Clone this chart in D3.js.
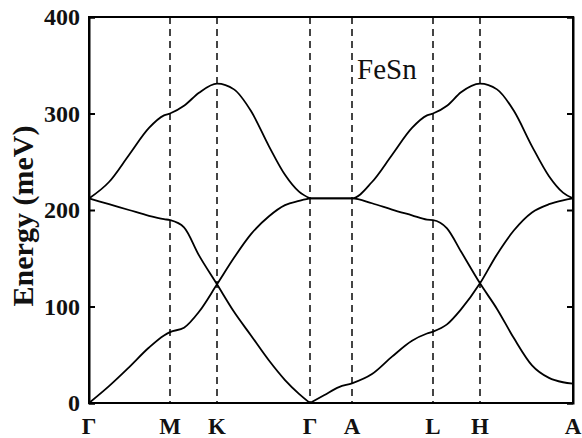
<!DOCTYPE html>
<html lang="en">
<head>
  <meta charset="utf-8">
  <title>FeSn</title>
  <script src="https://d3js.org/d3.v7.min.js" charset="utf-8"></script>
  <style>
  body{ margin:0; background:#fff; }
  .band{ fill:none; stroke:#000; stroke-width:1.8; }
  .kline{ stroke:#444; stroke-width:2; stroke-dasharray:7,5; }
  .lab{ font-family:"Times New Roman", "Liberation Serif", "DejaVu Serif", serif; font-weight:bold; fill:#111; }
  .name{ font-family:"Times New Roman", "Liberation Serif", "DejaVu Serif", serif; fill:#111; }
  </style>
</head>
<body>
  <script>
  var width = 582;
  var height = 438;

  // high symmetry points, position along the path
  var kNames = ["Γ", "M", "K", "Γ", "A", "L", "H", "A"];
  var kPos = [0, 81, 128, 221, 263, 344, 391, 484];

  // sampled k grid
  var kGrid = [0, 20, 40, 60, 75, 81,
    95, 110, 128,
    145, 162, 180, 196, 210, 221,
    235, 250, 263,
    283, 303, 323, 338, 344,
    358, 372, 391,
    408, 425, 443, 460, 474, 484];

  // energies (meV)
  var band1 = [0, 17.5, 37, 57.5, 70, 73.5,
    78, 94.5, 123,
    150.5, 175, 193.5, 205, 209.5, 212,
    212, 212, 212,
    207, 200.5, 194.5, 190, 189.6,
    181, 157, 124,
    97.5, 67, 39, 26, 21.5, 20];
  var band2 = [212, 206, 200, 194, 190.5, 189.5,
    182, 153, 123,
    94.5, 70, 44, 23.8, 9.5, 0,
    8, 16.5, 20.4,
    30, 48, 64.5, 72, 74,
    81.5, 97, 124,
    154, 179, 197.5, 206, 210, 212];
  var band3 = [212, 229, 257, 285, 298, 300,
    308, 321.5, 331,
    325, 302.5, 266, 236.5, 219, 212,
    212, 212, 212,
    229, 257, 285, 298, 300,
    308, 322, 331,
    325, 302.5, 266, 235, 218, 212];

  var yTicks = [0, 100, 200, 300, 400];

  var svg = d3.select("body")
    .append("svg")
    .attr("width", width)
    .attr("height", height);

  var x = d3.scaleLinear().domain([0, 484]).range([89, 573]);
  var y = d3.scaleLinear().domain([0, 400]).range([403, 17]);

  // dashed lines at the inner k points
  svg.selectAll(".kline")
    .data(kPos.slice(1, -1))
    .enter().append("line")
    .attr("class", "kline")
    .attr("x1", function(d){ return x(d); })
    .attr("x2", function(d){ return x(d); })
    .attr("y1", y(400))
    .attr("y2", y(0));

  // split at the middle Γ so the cusp stays sharp
  var line = d3.line()
    .x(function(d){ return x(d[0]); })
    .y(function(d){ return y(d[1]); })
    .curve(d3.curveMonotoneX);

  var cut = kGrid.indexOf(221);
  [band1, band2, band3].forEach(function(b){
    var pts = kGrid.map(function(k, i){ return [k, b[i]]; });
    [pts.slice(0, cut + 1), pts.slice(cut)].forEach(function(p){
      svg.append("path").attr("class", "band").attr("d", line(p));
    });
  });

  // frame and ticks
  svg.append("g")
    .attr("transform", "translate(" + x(0) + ",0)")
    .call(d3.axisLeft(y).tickValues(yTicks).tickSize(-6).tickFormat(""))
    .call(function(g){ g.selectAll("line,path").attr("stroke", "#000").attr("stroke-width", 2); });
  svg.append("g")
    .attr("transform", "translate(" + x(484) + ",0)")
    .call(d3.axisRight(y).tickValues(yTicks).tickSize(-6).tickFormat(""))
    .call(function(g){ g.selectAll("line,path").attr("stroke", "#000").attr("stroke-width", 2); });
  svg.append("rect")
    .attr("x", x(0)).attr("y", y(400))
    .attr("width", x(484) - x(0)).attr("height", y(0) - y(400))
    .attr("fill", "none").attr("stroke", "#000").attr("stroke-width", 2);

  // tick labels
  svg.selectAll(".ylab")
    .data(yTicks)
    .enter().append("text")
    .attr("class", "lab")
    .attr("x", 80)
    .attr("y", function(d){ return y(d); })
    .attr("dy", "0.34em")
    .attr("text-anchor", "end")
    .style("font-size", "24px")
    .text(function(d){ return d; });

  svg.selectAll(".xlab")
    .data(kPos)
    .enter().append("text")
    .attr("class", "lab")
    .attr("x", function(d){ return x(d); })
    .attr("y", 434)
    .attr("text-anchor", "middle")
    .style("font-size", "23px")
    .text(function(d, i){ return kNames[i]; });

  svg.append("text")
    .attr("class", "lab")
    .attr("transform", "translate(33,216) rotate(-90)")
    .attr("text-anchor", "middle")
    .style("font-size", "30px")
    .text("Energy (meV)");

  svg.append("text")
    .attr("class", "name")
    .attr("x", 357)
    .attr("y", 79)
    .style("font-size", "29px")
    .text("FeSn");
  </script>
</body>
</html>
